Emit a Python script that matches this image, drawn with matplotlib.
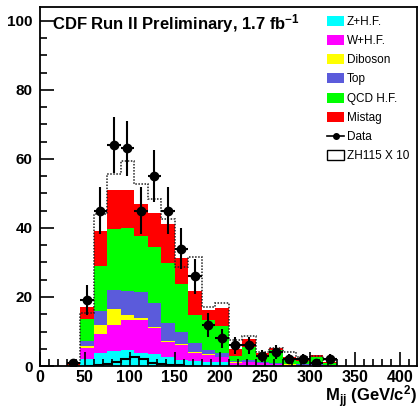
import numpy as np
import matplotlib
matplotlib.use("Agg")
import matplotlib.pyplot as plt
from matplotlib.patches import Patch
from matplotlib.lines import Line2D
from matplotlib.ticker import MultipleLocator

plt.rcParams["font.family"] = ["Liberation Sans", "DejaVu Sans"]
plt.rcParams["mathtext.fontset"] = "custom"
plt.rcParams["mathtext.rm"] = "Liberation Sans"
plt.rcParams["mathtext.bf"] = "Liberation Sans:bold"
plt.rcParams["mathtext.it"] = "Liberation Sans:italic"

# 15 GeV bins for the background stack, data and dotted curve
edges = np.arange(30, 331, 15)

zhf = [0.0, 1.9, 3.8, 4.3, 4.6, 3.9, 3.5, 2.5, 1.7, 1.5,
       1.3, 1.1, 0.3, 0.3, 0.3, 0.2, 0.1, 0.1, 0.1, 0.05]
whf = [0.1, 3.3, 5.6, 7.6, 8.6, 9.5, 7.5, 4.5, 4.4, 2.4,
       1.9, 1.4, 0.7, 0.8, 0.5, 0.4, 0.3, 0.2, 0.2, 0.15]
diboson = [0.0, 0.5, 2.6, 4.6, 1.7, 0.6, 0.4, 0.3, 0.3, 0.3,
           0.2, 0.1, 0.1, 0.1, 0.1, 0.1, 0.1, 0.1, 0.0, 0.0]
top = [0.0, 1.6, 4.0, 5.5, 6.9, 7.4, 6.8, 5.3, 3.5, 2.4,
       1.2, 1.3, 0.4, 0.5, 0.3, 0.3, 0.2, 0.1, 0.2, 0.1]
qcd = [0.1, 6.2, 13.0, 17.6, 18.1, 16.3, 16.2, 17.3, 13.9, 8.2,
       8.7, 7.7, 1.5, 3.8, 1.6, 3.6, 1.2, 1.0, 2.0, 0.7]
mistag = [0.4, 3.5, 10.1, 11.4, 11.1, 9.3, 9.8, 11.3, 7.6, 6.9,
          2.9, 5.1, 2.0, 2.3, 1.0, 0.5, 0.6, 0.7, 0.7, 0.2]

data = [1, 19, 45, 64, 63, 45, 55, 45, 34, 26,
        12, 8, 6, 6, 3, 4, 2, 2, 1, 2]

dotted = [1.0, 15.5, 44.0, 55.6, 59.5, 52.7, 48.5, 42.5, 28.8, 31.7,
          17.2, 18.2, 7.6, 8.7, 4.2, 5.1, 4.0, 2.5, 2.9, 1.7]

# ZH(115) x 10 signal, 10 GeV bins
zh_edges = np.arange(50, 161, 10)
zh = [0.1, 0.3, 0.6, 1.3, 2.0, 2.7, 1.9, 1.0, 0.5, 0.3, 0.2]

labels = ["Z+H.F.", "W+H.F.", "Diboson", "Top", "QCD H.F.", "Mistag"]
colors = ["#00FFFF", "#FF00FF", "#FFFF00", "#5B5BDB", "#00FF00", "#FF0000"]

fig = plt.figure(figsize=(4.18, 4.09), dpi=100)
ax = fig.add_axes([0.0945, 0.105, 0.9025, 0.879])

base = np.zeros(len(edges) - 1)
for vals, col in zip([zhf, whf, diboson, top, qcd, mistag], colors):
    vals = np.asarray(vals)
    ax.stairs(base + vals, edges, baseline=base, fill=True, color=col, lw=0)
    base = base + vals

ax.stairs(dotted, edges, baseline=None, color="#222222", lw=1.1, ls=(0, (1, 1)))
ax.stairs(zh, zh_edges, baseline=0, color="black", lw=1.5)

centers = 0.5 * (edges[:-1] + edges[1:])
ax.errorbar(centers, data, yerr=np.sqrt(data), xerr=7.5, fmt="o", color="black",
            ms=6, elinewidth=1.5, capsize=0, zorder=5)

ax.set_xlim(0, 419)
ax.set_ylim(0, 104.1)
ax.xaxis.set_major_locator(MultipleLocator(50))
ax.xaxis.set_minor_locator(MultipleLocator(10))
ax.yaxis.set_major_locator(MultipleLocator(20))
ax.yaxis.set_minor_locator(MultipleLocator(5))
ax.tick_params(which="both", direction="in", top=False, right=False, width=1.2)
ax.tick_params(which="major", length=10)
ax.tick_params(which="minor", length=5)
ax.tick_params(axis="x", pad=3, labelsize=11.5)
ax.tick_params(axis="y", pad=5, labelsize=11)
for lab in ax.get_xticklabels() + ax.get_yticklabels():
    lab.set_fontweight("bold")
for sp in ax.spines.values():
    sp.set_linewidth(1.3)

ax.text(0.032, 0.953, r"CDF Run II Preliminary, 1.7 fb$^{\mathbf{-1}}$",
        transform=ax.transAxes, fontsize=12, fontweight="bold", va="center")

fig.text(0.997, 0.017, r"M$_{\mathbf{jj}}$ (GeV/c$^{\mathbf{2}}$)", ha="right",
         va="baseline", fontsize=12, fontweight="bold")

handles = [Patch(facecolor=c, edgecolor="none") for c in colors]
handles.append(Line2D([], [], color="black", marker="o", ms=4, lw=1.2))
handles.append(Patch(facecolor="white", edgecolor="black", lw=1.0))
leg = ax.legend(handles, labels + ["Data", "ZH115 X 10"], loc="upper left",
                bbox_to_anchor=(0.75, 0.988), frameon=False, fontsize=8.5,
                handlelength=1.45, handleheight=0.95, labelspacing=0.6,
                handletextpad=0.2, borderaxespad=0)

fig.savefig("out.png", dpi=100)
